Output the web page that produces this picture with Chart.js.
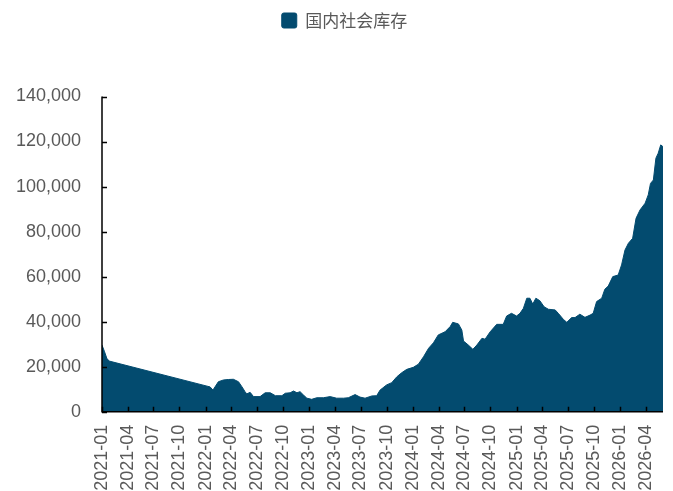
<!DOCTYPE html>
<html>
<head>
<meta charset="utf-8">
<script src="https://cdn.jsdelivr.net/npm/chart.js@4.4.1/dist/chart.umd.min.js"></script>
<style>
  html, body { margin: 0; padding: 0; background: #ffffff; }
  #wrap { width: 673px; height: 491px; position: relative; }
</style>
</head>
<body>
<div id="wrap"><canvas id="chart"></canvas></div>
<script>
// Series name shown in the legend
const seriesName = '国内社会库存';

// Observation dates
const dates = [
  '2021-01-01','2021-01-10','2021-01-18','2021-01-26',
  '2022-01-17','2022-01-27','2022-02-15','2022-03-05','2022-03-22','2022-04-09','2022-04-27',
  '2022-05-09','2022-05-20','2022-05-26','2022-06-07','2022-06-19','2022-07-12','2022-07-30',
  '2022-08-17','2022-09-04','2022-09-27','2022-10-09','2022-10-26','2022-11-07','2022-11-19',
  '2022-11-30','2022-12-12','2022-12-24',
  '2023-01-10','2023-01-28','2023-02-20','2023-03-16','2023-04-08','2023-05-02','2023-05-19',
  '2023-06-12','2023-06-29','2023-07-17','2023-08-10','2023-08-27','2023-09-08','2023-10-01',
  '2023-10-19','2023-11-06','2023-11-23','2023-12-11',
  '2024-01-03','2024-01-21','2024-02-08','2024-02-26','2024-03-14','2024-03-31','2024-04-24',
  '2024-05-12','2024-05-21','2024-06-10','2024-06-22','2024-06-28','2024-07-15','2024-07-31',
  '2024-08-14','2024-09-01','2024-09-12','2024-09-30','2024-10-23','2024-11-15','2024-11-27',
  '2024-12-14',
  '2025-01-01','2025-01-13','2025-01-25','2025-02-06','2025-02-17','2025-02-27','2025-03-10',
  '2025-03-24','2025-04-08','2025-04-23','2025-05-17','2025-05-28','2025-06-15','2025-06-27',
  '2025-07-14','2025-07-26','2025-08-12','2025-08-30','2025-09-17','2025-09-28','2025-10-10',
  '2025-10-28','2025-11-08','2025-11-20','2025-12-06','2025-12-25',
  '2026-01-06','2026-01-18','2026-01-30','2026-02-14','2026-02-26','2026-03-12','2026-03-30',
  '2026-04-10','2026-04-18','2026-04-28','2026-05-07','2026-05-15','2026-05-24','2026-06-01'
];

// Stock level at each date
const stock = [
  29600, 26600, 23700, 22500,
  11000, 9600, 13300, 14100, 14300, 14400, 13300,
  11100, 8900, 7900, 8600, 6700, 6700, 8400,
  8400, 7100, 7100, 8200, 8400, 9200, 8400,
  8900, 7400, 6000,
  5500, 6200, 6200, 6700, 6000, 6000, 6200,
  7600, 6500, 6000, 7000, 7100, 9600, 11900,
  12900, 15500, 17300, 18800,
  19700, 21100, 24400, 28200, 30600, 34100, 35500,
  37800, 39700, 39000, 36300, 31400, 29600, 27700,
  29600, 32600, 32200, 35500, 38800, 38800, 42500,
  43700,
  42500, 43700, 45900, 50400, 50400, 47800, 50400,
  49300, 46600, 45500, 45200, 43700, 41000, 39700,
  41800, 41800, 43300, 41900, 42900, 43700, 48900,
  50400, 54400, 55800, 60000, 60700,
  65200, 71800, 74800, 77000, 85900, 89600, 92600,
  96300, 101400, 102900, 112600, 114800, 118500, 117700
];

// Axis tick labels
const xTickLabels = [
  '2021-01','2021-04','2021-07','2021-10','2022-01','2022-04','2022-07','2022-10',
  '2023-01','2023-04','2023-07','2023-10','2024-01','2024-04','2024-07','2024-10',
  '2025-01','2025-04','2025-07','2025-10','2026-01','2026-04'
];
const yTickValues = [0, 20000, 40000, 60000, 80000, 100000, 120000, 140000];
const xAxisStart = '2021-01-01';
const xAxisEnd = '2026-06-01';

// Days elapsed since the start of the axis
function dayIndex(str) {
  const p = str.split('-').map(Number);
  const t = Date.UTC(p[0], p[1] - 1, p[2] || 1);
  const s = xAxisStart.split('-').map(Number);
  return (t - Date.UTC(s[0], s[1] - 1, s[2])) / 86400000;
}

const points = dates.map((d, i) => ({ x: dayIndex(d), y: stock[i] }));

const FILL = '#034b6f';
const AXIS = '#000000';
const LABEL = '#595959';

// Short tick marks pointing into the plot area, plus the two axis lines
const innerTicks = {
  id: 'innerTicks',
  afterDraw(chart) {
    const { ctx, chartArea: a, scales: { x, y } } = chart;
    ctx.save();
    ctx.strokeStyle = AXIS;
    ctx.lineWidth = 1.5;
    ctx.beginPath();
    x.ticks.forEach(t => {
      const px = Math.round(x.getPixelForValue(t.value)) + 0.5;
      ctx.moveTo(px, a.bottom);
      ctx.lineTo(px, a.bottom - 5);
    });
    y.ticks.forEach(t => {
      const py = Math.round(y.getPixelForValue(t.value)) + 0.5;
      ctx.moveTo(a.left, py);
      ctx.lineTo(a.left + 5, py);
    });
    ctx.stroke();
    ctx.beginPath();
    ctx.moveTo(a.left, a.top);
    ctx.lineTo(a.left, a.bottom);
    ctx.lineTo(a.right, a.bottom);
    ctx.stroke();
    ctx.restore();
  }
};

// Extra room beneath the legend, and a small nudge to the right
const legendSpace = {
  id: 'legendSpace',
  beforeInit(chart) {
    const origFit = chart.legend.fit;
    chart.legend.fit = function () {
      origFit.bind(chart.legend)();
      this.height = 94.5;
    };
  },
  afterLayout(chart) {
    chart.legend.left += 12;
    chart.legend.right += 12;
  }
};

new Chart(document.getElementById('chart'), {
  type: 'line',
  data: {
    datasets: [{
      label: seriesName,
      data: points,
      fill: 'origin',
      backgroundColor: FILL,
      borderColor: FILL,
      borderWidth: 1,
      pointRadius: 0,
      tension: 0
    }]
  },
  options: {
    responsive: true,
    maintainAspectRatio: false,
    animation: false,
    layout: { padding: { left: 2, right: 10, top: 2, bottom: 0 } },
    plugins: {
      legend: {
        position: 'top',
        align: 'center',
        labels: {
          boxWidth: 15,
          boxHeight: 15,
          useBorderRadius: true,
          borderRadius: 2,
          color: LABEL,
          padding: 10,
          font: { family: '"Noto Sans CJK SC", sans-serif', size: 17 }
        }
      },
      tooltip: { enabled: false }
    },
    scales: {
      x: {
        type: 'linear',
        min: dayIndex(xAxisStart),
        max: dayIndex(xAxisEnd),
        afterBuildTicks(scale) {
          scale.ticks = xTickLabels.map(l => ({ value: dayIndex(l + '-01') }));
        },
        afterFit(scale) {
          scale.height = 79.3;
          scale.paddingLeft = 0;
          scale.paddingRight = 0;
        },
        grid: { display: false, drawTicks: false },
        border: { display: false },
        ticks: {
          autoSkip: false,
          maxRotation: 90,
          minRotation: 90,
          padding: 13,
          color: LABEL,
          font: { family: '"Liberation Sans", Arial, sans-serif', size: 18 },
          callback: (v, i) => xTickLabels[i]
        }
      },
      y: {
        min: 0,
        max: 140000,
        afterBuildTicks(scale) {
          scale.ticks = yTickValues.map(v => ({ value: v }));
        },
        afterFit(scale) { scale.width = 100; },
        grid: { display: false, drawTicks: false },
        border: { display: false },
        ticks: {
          padding: 21,
          color: LABEL,
          font: { family: '"Liberation Sans", Arial, sans-serif', size: 18 },
          callback: v => v.toLocaleString('en-US')
        }
      }
    }
  },
  plugins: [legendSpace, innerTicks]
});
</script>
</body>
</html>
